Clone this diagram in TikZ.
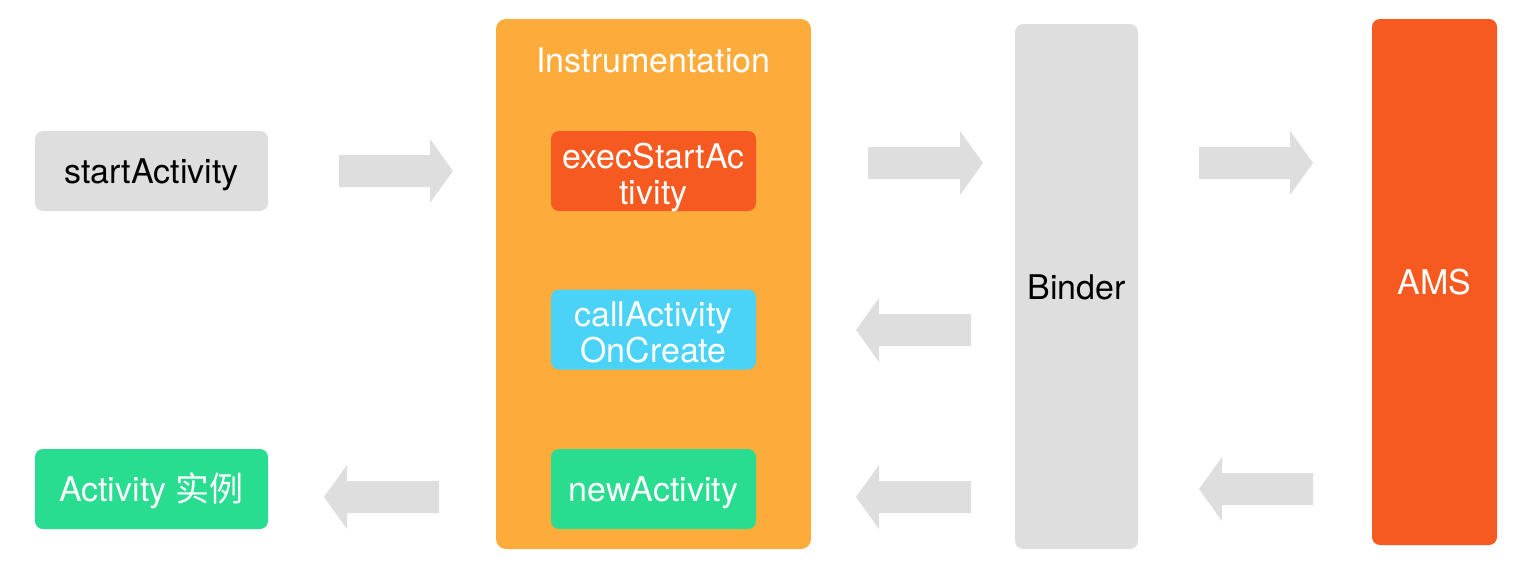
\documentclass[tikz,border=0pt]{standalone}
\usepackage{fontspec}
\setmainfont{TeX Gyre Heros}
\newfontfamily\cjk{Noto Sans CJK SC}
\definecolor{boxgray}{HTML}{DEDEDE}
\definecolor{instr}{HTML}{FDAC3B}
\definecolor{redor}{HTML}{F65A21}
\definecolor{skyb}{HTML}{4AD2F7}
\definecolor{mint}{HTML}{28DC90}
\newcommand\twolines[2]{\begin{tabular}[t]{@{}c@{}}#1\\#2\end{tabular}}
\tikzset{
  txt/.style={font=\fontsize{34}{36}\selectfont, text height=25pt, text depth=0pt},
  box/.style={rectangle, rounded corners=8pt, inner sep=0pt, align=center, txt},
  small/.style={box, minimum width=205pt, minimum height=80pt, text=white},
  side/.style={box, minimum width=233pt, minimum height=80pt},
  blk/.style={fill=boxgray},
}
\newcommand\rarr[3]{\fill[blk] (#1,#3-16) -- (#2-23,#3-16) -- (#2-23,#3-32) -- (#2,#3) -- (#2-23,#3+32) -- (#2-23,#3+16) -- (#1,#3+16) -- cycle;}
\newcommand\larr[3]{\fill[blk] (#1,#3-16) -- (#2+23,#3-16) -- (#2+23,#3-32) -- (#2,#3) -- (#2+23,#3+32) -- (#2+23,#3+16) -- (#1,#3+16) -- cycle;}
\begin{document}
\begin{tikzpicture}[x=1pt,y=-1pt]
\useasboundingbox (0,0) rectangle (1518,570);
% Instrumentation container
\node[box, fill=instr, rounded corners=10pt, minimum width=315pt, minimum height=530pt] (instr) at (653.5,284) {};
\node[txt, text=white, inner sep=0pt] (instrlabel) at (653.5,59.5) {Instrumentation};
\node[small, fill=redor, text depth=31pt] (exec) at (653.5,171) {\twolines{execStartAc}{tivity}};
\node[small, fill=skyb, text depth=32pt] (call) at (653.5,329.5) {\twolines{callActivity}{OnCreate}};
\node[small, fill=mint] (newact) at (653.5,489) {newActivity};
% side boxes
\node[side, fill=boxgray, text=black] (start) at (151.5,171) {startActivity};
\node[side, fill=mint, text=white] (act) at (151.5,489) {Activity {\cjk 实例}};
% Binder and AMS
\node[box, fill=boxgray, minimum width=123pt, minimum height=525pt, text=black] (binder) at (1076.5,286.5) {Binder};
\node[box, fill=redor, minimum width=125pt, minimum height=526pt, text=white] (ams) at (1434.5,282) {AMS};
% block arrows
\rarr{339}{453}{171}
\rarr{868}{983}{163}
\rarr{1199}{1313}{163}
\larr{971}{856}{330}
\larr{971}{856}{497}
\larr{1313}{1199}{489}
\larr{439}{324}{497}
\end{tikzpicture}
\end{document}
